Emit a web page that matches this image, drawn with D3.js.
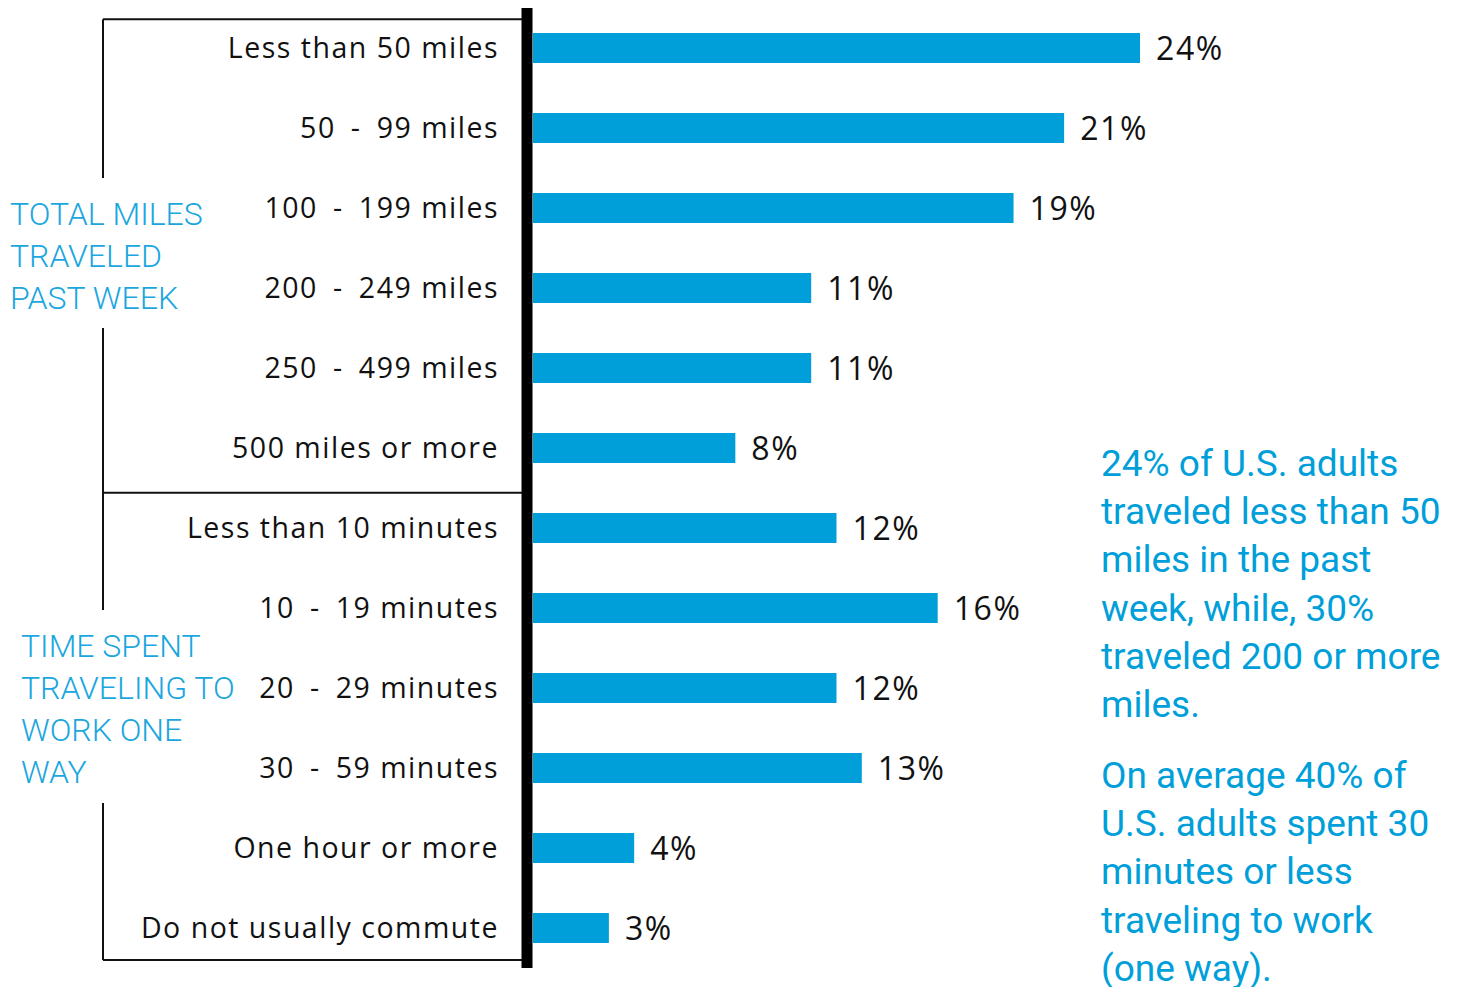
<!DOCTYPE html>
<html>
<head>
<meta charset="utf-8">
<script src="https://cdn.jsdelivr.net/npm/d3@7"></script>
<style>
  html, body { margin: 0; padding: 0; background: #fff; }
  svg { display: block; }
</style>
</head>
<body>
<svg id="chart" width="1460" height="987"></svg>
<script>
// Category labels (top to bottom) and their percentages
const categories = [
  "Less than 50 miles", "50 - 99 miles", "100 - 199 miles", "200 - 249 miles",
  "250 - 499 miles", "500 miles or more",
  "Less than 10 minutes", "10 - 19 minutes", "20 - 29 minutes", "30 - 59 minutes",
  "One hour or more", "Do not usually commute"
];
const values = [24, 21, 19, 11, 11, 8, 12, 16, 12, 13, 4, 3];

// Group brackets: the group's label lines
const groupNames = [
  ["TOTAL MILES", "TRAVELED", "PAST WEEK"],
  ["TIME SPENT", "TRAVELING TO", "WORK ONE", "WAY"]
];

// Side notes
const note1 = ["24% of U.S. adults", "traveled less than 50", "miles in the past",
               "week, while, 30%", "traveled 200 or more", "miles."];
const note2 = ["On average 40% of", "U.S. adults spent 30", "minutes or less",
               "traveling to work", "(one way)."];

const BLUE = "#009fda";
const LABEL_FONT = "'Open Sans', 'DejaVu Sans', sans-serif";
const NOTE_FONT = "'Roboto', sans-serif";

const svg = d3.select("#chart");

const x = d3.scaleLinear().domain([0, 24]).range([533, 1140]);
const y = d3.scaleBand().domain(categories).range([8, 968]).paddingInner(0.625).paddingOuter(0.3125);

// Bars
svg.append("g").selectAll("rect")
  .data(categories)
  .join("rect")
  .attr("x", x(0))
  .attr("y", d => y(d))
  .attr("width", (d, i) => x(values[i]) - x(0))
  .attr("height", y.bandwidth())
  .attr("fill", BLUE);

// Value labels
svg.append("g").selectAll("text")
  .data(categories)
  .join("text")
  .attr("x", (d, i) => x(values[i]) + 16)
  .attr("y", d => y(d) + y.bandwidth() / 2)
  .attr("dy", "0.36em")
  .attr("font-family", LABEL_FONT)
  .attr("font-size", 32)
  .attr("letter-spacing", 1.6)
  .attr("fill", "#111")
  .text((d, i) => values[i] + "%");

// Category labels (slightly wider gap around the range dash)
svg.append("g").selectAll("text")
  .data(categories)
  .join("text")
  .attr("x", 499)
  .attr("y", d => y(d) + y.bandwidth() / 2)
  .attr("dy", "0.36em")
  .attr("text-anchor", "end")
  .attr("font-family", LABEL_FONT)
  .attr("font-size", 28.5)
  .attr("letter-spacing", 1.5)
  .attr("fill", "#111")
  .style("white-space", "pre")
  .text(d => d.replace(" - ", " \u2009-\u2009 "));

// Bracket lines
const brk = svg.append("g").attr("stroke", "#111").attr("stroke-width", 2).attr("fill", "none");
const step = y.step();
const bTop = y(categories[0]) + y.bandwidth() / 2 - step * 0.36;
const bMid = y(categories[5]) + y.bandwidth() / 2 + step * 0.56;
const bBot = y(categories[11]) + y.bandwidth() / 2 + step * 0.4;
[bTop, bMid, bBot].forEach(yy => {
  brk.append("line").attr("x1", 103).attr("x2", 522).attr("y1", yy).attr("y2", yy);
});
// Left vertical with gaps where the group labels sit
const gaps = [[178, 328], [610, 803]];
const segs = [[bTop, gaps[0][0]], [gaps[0][1], gaps[1][0]], [gaps[1][1], bBot]];
segs.forEach(([a, b]) => {
  brk.append("line").attr("x1", 103).attr("x2", 103).attr("y1", a).attr("y2", b);
});

// Thick axis line
svg.append("line")
  .attr("x1", x(0) - 6).attr("x2", x(0) - 6)
  .attr("y1", 8).attr("y2", 968)
  .attr("stroke", "#000").attr("stroke-width", 11);

// Group labels
const groupX = [10, 21];
const groupY = [225, 657];
groupNames.forEach((lines, g) => {
  const t = svg.append("text")
    .attr("font-family", NOTE_FONT)
    .attr("font-weight", 300)
    .attr("font-size", 32)
    .attr("fill", "#1aa6de");
  lines.forEach((ln, i) => {
    t.append("tspan").attr("x", groupX[g]).attr("y", groupY[g] + i * 42).text(ln);
  });
});

// Side notes
function note(lines, y0) {
  const t = svg.append("text")
    .attr("font-family", NOTE_FONT)
    .attr("font-size", 37)
    .attr("fill", BLUE);
  lines.forEach((ln, i) => {
    t.append("tspan").attr("x", 1101).attr("y", y0 + i * 48.2).text(ln);
  });
}
note(note1, 476);
note(note2, 788);
</script>
</body>
</html>
